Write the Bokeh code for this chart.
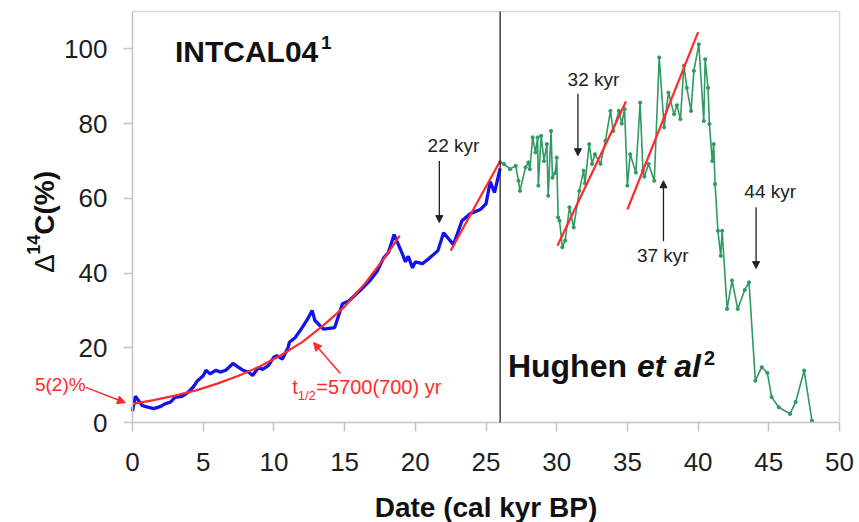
import math
from bokeh.plotting import figure
from bokeh.models import Label, Arrow, NormalHead, FixedTicker, LinearAxis
from bokeh.embed import file_html
from bokeh.resources import INLINE

# ---------------- data ----------------
x_ticks = [0, 5, 10, 15, 20, 25, 30, 35, 40, 45, 50]
y_ticks = [0, 20, 40, 60, 80, 100]

# INTCAL04 record (blue)
intcal_x = [0, 0.2, 0.4, 0.7, 1.0, 1.5, 2.0, 2.3, 2.7, 3.0, 3.5, 3.9, 4.3, 4.6, 5.0,
            5.2, 5.5, 5.9, 6.2, 6.6, 7.1, 7.4, 7.8, 8.2, 8.5, 8.9, 9.2, 9.6, 10.0,
            10.2, 10.6, 11.0, 11.1, 11.5, 12.0, 12.4, 12.7, 12.9, 13.5, 14.3, 14.85,
            15.3, 16.0, 16.8, 17.3, 17.75, 18.1, 18.5, 19.1, 19.3, 19.5, 19.8, 20.0,
            20.5, 21.0, 21.6, 22.0, 22.7, 23.3, 23.9, 24.6, 25.0, 25.3, 25.6, 26.0]
intcal_y = [3, 7, 6, 4.5, 4.2, 3.7, 4.3, 5, 5.5, 6.7, 7, 8, 9.5, 11.2, 12.5,
            14, 13, 14, 13.5, 14, 15.8, 15, 14, 13.5, 12.6, 14.7, 14.2, 15.2, 17.5,
            17.9, 17, 20, 21.5, 22.7, 25.4, 27.8, 30, 27.3, 25, 25.4, 31.8,
            32.5, 35, 38, 40.5, 44, 45.5, 50.3, 45, 43, 44.5, 41.4, 43,
            42.5, 44, 46, 50.8, 47.6, 54, 55.9, 57, 58.5, 64.5, 61.5, 68]

# Hughen et al record (green)
hughen_x = [26.0, 26.26, 26.7, 27.1, 27.3, 27.4, 27.8, 28.0, 28.1, 28.3,
            28.5, 28.65, 28.7, 28.9, 29.1, 29.3, 29.4, 29.6, 29.7, 29.9,
            30.0, 30.1, 30.2, 30.4, 30.6, 30.9, 31.2, 31.6, 31.9, 32.0,
            32.3, 32.5, 32.7, 33.1, 33.45, 33.8, 34.0, 34.4, 34.6, 34.8,
            35.0, 35.2, 35.6, 35.9, 36.1, 36.2, 36.5, 36.9, 37.25, 37.6,
            37.9, 38.3, 38.5, 38.75, 39.0, 39.2, 39.5, 39.7, 40.05, 40.4,
            40.5, 40.7, 40.8, 41.0, 41.1, 41.2, 41.4, 41.6, 41.7, 42.05,
            42.4, 42.8, 43.3, 43.6, 44.05, 44.5, 44.9, 45.2, 45.7, 46.5,
            46.9, 47.5, 48.05]
hughen_y = [69.6, 69.2, 67.8, 68.7, 64.7, 62, 68.3, 69.6, 67.8, 76.3,
            72.3, 76.3, 63.4, 76.7, 70, 74.5, 60.7, 78, 65.5, 66.8,
            70.9, 54.9, 54, 46.9, 48.7, 57.6, 52.2, 62, 67.4, 64,
            74.5, 69.2, 71.8, 69.2, 75.4, 83.4, 78, 83.4, 80, 83.9,
            63.4, 71.8, 66.9, 85.6, 67.4, 65.8, 69.2, 64.7, 97.7, 79,
            88.3, 82.5, 84.9, 81.2, 95.5, 89.6, 83.4, 94.1, 101.2, 80.7,
            97.2, 89.6, 79.9, 70, 74.5, 63.8, 51.3, 44.6, 51.3, 30.4,
            38, 30.4, 35.5, 37.5, 11.2, 14.8, 13.3, 6.8, 4.1, 2.3,
            5.5, 13.9, 0.5]

# exponential fit (red curve)
fit_x = [0, 1.5, 3, 4.5, 6, 7.5, 9, 10.5, 12, 13.5, 15, 16.5, 18, 18.9]
fit_y = [5.0, 6.0, 7.2, 8.6, 10.4, 12.5, 15.0, 18.0, 21.5, 26.0, 31.0, 37.5, 45.0, 50.0]

# straight red segments (start x, start y, end x, end y)
seg_x0 = [22.5, 30.05, 35.0]
seg_y0 = [46.0, 47.3, 57.0]
seg_x1 = [26.0, 34.9, 40.0]
seg_y1 = [70.0, 85.9, 104.5]

# kyr annotations: label, text x, text baseline y, arrow x, arrow start y, arrow end y
kyr_labels = ["22 kyr", "32 kyr", "37 kyr", "44 kyr"]
kyr_text_x = [22.7, 32.6, 37.5, 45.1]
kyr_text_y = [72.2, 90.0, 42.8, 59.9]
kyr_arrow_x = [21.7, 31.5, 37.55, 44.1]
kyr_arrow_y0 = [70.0, 88.0, 48.5, 57.6]
kyr_arrow_y1 = [53.5, 71.4, 64.7, 41.2]

boundary_x = 26
x_min, x_max = 0, 50
y_min, y_max = 0, 110
# visible window (whole canvas), so that notes and tick labels left of / below the axes show
view_x = (-9.335, 51.414)
view_y = (-26.76, 112.94)

FONT = "Liberation Sans"
RED = "#ff2b2b"
GREEN = "#2f9a62"
BLUE = "#1212ee"
FRAME = "#c4c4c4"
LIGHT = "#d8d8d8"
INK = "#111111"


def lab(x, y, text, size, style="normal", color=INK, align="left", xo=0):
    return Label(x=x, y=y, x_offset=xo, y_offset=round(0.37 * size), text=text,
                 text_align=align, text_baseline="alphabetic", text_font=FONT,
                 text_font_size=f"{size}px", text_font_style=style, text_color=color)


def vlab(x, y, text, size, style, xo, yo):
    return Label(x=x, y=y, x_offset=xo, y_offset=yo, text=text, angle=math.pi / 2,
                 text_align="left", text_baseline="alphabetic", text_font=FONT,
                 text_font_size=f"{size}px", text_font_style=style, text_color=INK)


# ---------------- figure ----------------
p = figure(width=859, height=522, x_range=view_x, y_range=view_y,
           output_backend="svg", toolbar_location=None,
           min_border_left=0, min_border_right=0, min_border_top=0,
           min_border_bottom=0)
p.background_fill_color = "white"
p.border_fill_color = "white"
p.outline_line_color = None
p.xgrid.visible = False
p.ygrid.visible = False

for ax in (p.xaxis, p.yaxis):
    ax.axis_line_color = FRAME
    ax.axis_line_width = 1.5
    ax.major_tick_line_color = FRAME
    ax.major_tick_line_width = 1.5
    ax.major_tick_out = 9
    ax.major_tick_in = 0
    ax.minor_tick_line_color = None
    ax.major_label_text_font = FONT
    ax.major_label_text_font_size = "26px"
    ax.major_label_text_color = "#1e1e1e"

p.xaxis.ticker = FixedTicker(ticks=x_ticks)
p.yaxis.ticker = FixedTicker(ticks=y_ticks)
p.xaxis.bounds = (x_min, x_max)
p.yaxis.bounds = (y_min, y_max)
p.xaxis.fixed_location = y_min
p.yaxis.fixed_location = x_min
p.xaxis.major_label_standoff = 21
p.yaxis.major_label_standoff = 16

# light frame lines on top and right (axes without ticks)
top_ax = LinearAxis(bounds=(x_min, x_max), fixed_location=y_max,
                    major_tick_line_color=None, minor_tick_line_color=None,
                    major_label_text_font_size="0px", axis_line_color=LIGHT, axis_line_width=1.5)
top_ax.ticker = FixedTicker(ticks=[])
p.add_layout(top_ax, "above")
right_ax = LinearAxis(bounds=(y_min, y_max), fixed_location=x_max,
                      major_tick_line_color=None, minor_tick_line_color=None,
                      major_label_text_font_size="0px", axis_line_color=LIGHT, axis_line_width=1.5)
right_ax.ticker = FixedTicker(ticks=[])
p.add_layout(right_ax, "right")

# axis titles
p.add_layout(lab(25, -25.3, "Date (cal kyr BP)", 28, "bold", align="center"))
p.add_layout(vlab(-5.55, 40.1, "Δ", 28, "normal", -10, 0))
p.add_layout(vlab(-5.55, 40.1, "14", 18, "bold", -21, 18))
p.add_layout(vlab(-5.55, 40.1, "C(%)", 28, "bold", -10, 38))

# boundary line between the two records
p.add_layout(Arrow(x_start=boundary_x, y_start=y_min, x_end=boundary_x, y_end=y_max, end=None,
                   line_color="#222222", line_width=1.3))

# data
p.line(intcal_x, intcal_y, line_color=BLUE, line_width=3.3)
p.line(hughen_x, hughen_y, line_color=GREEN, line_width=1.6)
p.scatter(hughen_x, hughen_y, size=3.2, color=GREEN)

# fits
p.line(fit_x, fit_y, line_color=RED, line_width=2.2)
p.segment(x0=seg_x0, y0=seg_y0, x1=seg_x1, y1=seg_y1, line_color=RED, line_width=2.2)

# kyr annotations
for t, tx, ty, axx, ay0, ay1 in zip(kyr_labels, kyr_text_x, kyr_text_y,
                                     kyr_arrow_x, kyr_arrow_y0, kyr_arrow_y1):
    p.add_layout(lab(tx, ty, t, 19, color="#222222", align="center"))
    p.add_layout(Arrow(x_start=axx, y_start=ay0, x_end=axx, y_end=ay1,
                       line_color="#222222", line_width=1.3,
                       end=NormalHead(size=7, fill_color="#222222", line_color="#222222")))

# titles inside the plot
p.add_layout(lab(3.0, 96.3, "INTCAL04", 30, "bold"))
p.add_layout(lab(3.0, 99.8, "1", 19, "bold", xo=146))
p.add_layout(lab(26.55, 11.8, "Hughen", 32, "bold"))
p.add_layout(lab(26.55, 11.8, "et al", 32, "bold italic", xo=129))
p.add_layout(lab(26.55, 15.5, "2", 20, "bold", xo=196))

# red annotations
p.add_layout(lab(-6.9, 8.3, "5(2)%", 19, color=RED))
p.add_layout(Arrow(x_start=-3.3, y_start=9.4, x_end=-0.5, y_end=5.3,
                   line_color=RED, line_width=1.5,
                   end=NormalHead(size=8, fill_color=RED, line_color=RED)))

p.add_layout(lab(11.3, 7.5, "t", 20, color=RED))
p.add_layout(lab(11.3, 6.0, "1/2", 13, color=RED, xo=5.5))
p.add_layout(lab(11.3, 7.5, "=5700(700) yr", 20, color=RED, xo=24))
p.add_layout(Arrow(x_start=14.7, y_start=13.1, x_end=12.8, y_end=21.4,
                   line_color=RED, line_width=1.5,
                   end=NormalHead(size=8, fill_color=RED, line_color=RED)))

open("out.html", "w").write(file_html(p, INLINE))
